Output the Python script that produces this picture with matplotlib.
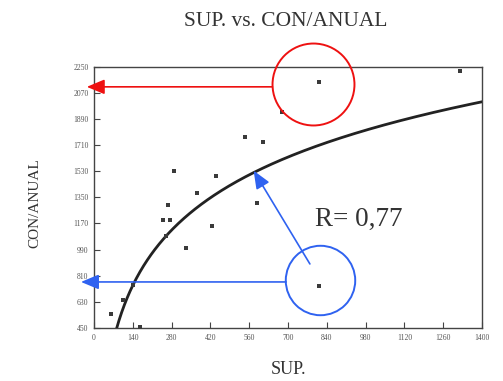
import numpy as np
import matplotlib
matplotlib.use("Agg")
import matplotlib.pyplot as plt

# ---- data ----
sup = [60, 104, 142, 166, 248, 275, 260, 268, 289, 333, 371, 425, 441,
       544, 608, 588, 677, 812, 812, 1319]
con_anual = [547, 643, 747, 459, 1190, 1190, 1080, 1298, 1528, 1004, 1376,
             1149, 1496, 1767, 1728, 1310, 1938, 2142, 742, 2216]
# logarithmic fit  y = a + b*ln(x)
fit_a = -1968.6
fit_b = 548.8
x_ticks = [0, 140, 280, 420, 560, 700, 840, 980, 1120, 1260, 1400]
y_ticks = [450, 630, 810, 990, 1170, 1350, 1530, 1710, 1890, 2070, 2250]
r_text = "R= 0,77"

serif = "Liberation Serif"
W, H = 503, 381
fig = plt.figure(figsize=(W / 100, H / 100), dpi=100)
ax = fig.add_axes([94 / W, 1 - 328 / H, (482 - 94) / W, (328 - 66.5) / H])

ax.set_xlim(0, 1400)
ax.set_ylim(450, 2250)
ax.set_xticks(x_ticks)
ax.set_yticks(y_ticks)
ax.tick_params(direction="in", length=4, width=0.8, colors="#444444",
               labelsize=5.5, labelcolor="#555555", pad=4)
for lab in ax.get_xticklabels() + ax.get_yticklabels():
    lab.set_family(serif)
for s in ax.spines.values():
    s.set_color("#444444")
    s.set_linewidth(1.0)

# fitted curve
xc = np.linspace(80, 1400, 400)
yc = fit_a + fit_b * np.log(xc)
ax.plot(xc, yc, color="#222222", lw=2.0, zorder=3)

# points
ax.scatter(sup, con_anual, marker="s", s=7, color="#3a3a3a", zorder=4, lw=0)

# annotations
red = "#ee1111"
blue = "#2f62f0"
ax.plot([sup[17] - 20], [con_anual[17] - 14], marker="o", ms=59, mfc="none",
        mec=red, mew=1.4, clip_on=False, zorder=5)
ax.plot([sup[18] + 5], [con_anual[18] + 35], marker="o", ms=50, mfc="none",
        mec=blue, mew=1.4, clip_on=False, zorder=5)

aprops = dict(arrowstyle="-|>,head_length=0.6,head_width=0.25",
              mutation_scale=18, lw=1.2, shrinkA=0, shrinkB=0)
ax.annotate("", xy=(-26, 2110), xytext=(644, 2110), xycoords="data",
            arrowprops=dict(color=red, **aprops), annotation_clip=False, zorder=5)
ax.annotate("", xy=(-47, 767), xytext=(693, 767), xycoords="data",
            arrowprops=dict(color=blue, **aprops), annotation_clip=False, zorder=5)
ax.annotate("", xy=(576, 1533), xytext=(779, 891), xycoords="data",
            arrowprops=dict(color=blue, **aprops), annotation_clip=False, zorder=5)

ax.text(955, 1200, r_text, family=serif, fontsize=19.5, color="#333333",
        ha="center", va="center")

fig.text(286 / W, 1 - 22 / H, "SUP. vs. CON/ANUAL", family=serif, fontsize=15.5,
         color="#333333", ha="center", va="center")
fig.text(288 / W, 1 - 369 / H, "SUP.", family=serif, fontsize=13,
         color="#333333", ha="center", va="center")
fig.text(35 / W, 1 - 203.5 / H, "CON/ANUAL", family=serif, fontsize=11,
         color="#333333", ha="center", va="center", rotation=90)

fig.savefig("out.png", dpi=100)
